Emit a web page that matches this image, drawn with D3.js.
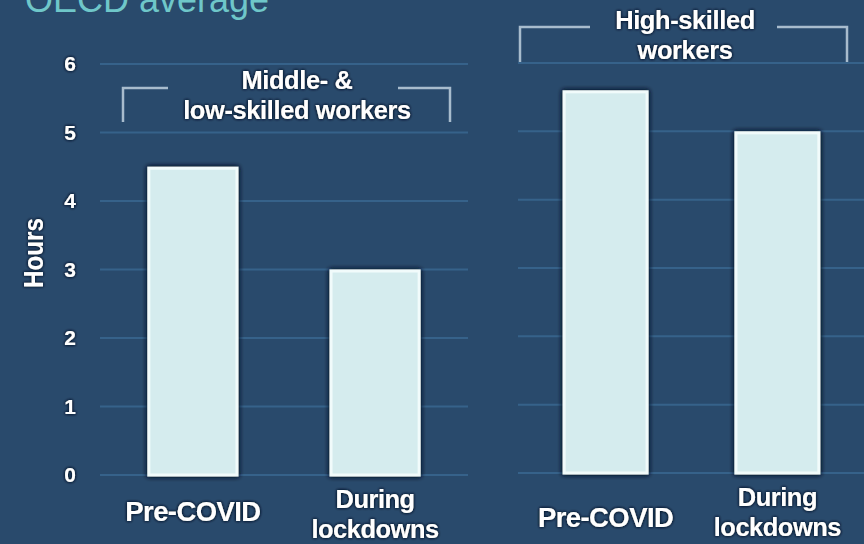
<!DOCTYPE html>
<html><head><meta charset="utf-8">
<script src="https://cdn.jsdelivr.net/npm/d3@7"></script>
<style>
html,body{margin:0;padding:0;background:#294a6c;}
svg{display:block;}
text{font-family:"Liberation Sans",Arial,Helvetica,sans-serif;}
</style></head><body>
<svg id="chart" width="864" height="544"></svg>
<script>
// ---- data ----
const title = "OECD average";
const yAxisLabel = "Hours";
const yTicks = [0, 1, 2, 3, 4, 5, 6];
const categories = ["Pre-COVID", "During lockdowns"];
const categoryLines = [["Pre-COVID"], ["During", "lockdowns"]];
const groupNames = ["Middle- & low-skilled workers", "High-skilled workers"];
const groupLines = [["Middle- &", "low-skilled workers"], ["High-skilled", "workers"]];
const lowMidSkilledHours = [4.5, 3.0];
const highSkilledHours = [5.6, 5.0];

// ---- layout ----
const W = 864, H = 544;
const BG = "#294a6c", GRID = "#3a6892", BAR = "#d5ecee", BAR_EDGE = "#f1fbfb",
      BRACKET = "#a8bccd", TITLE = "#6fc7c9";

const svg = d3.select("#chart").attr("width", W).attr("height", H);
svg.append("rect").attr("width", W).attr("height", H).attr("fill", BG);

const defs = svg.append("defs");
function glow(id, sd, op, n) {
  const f = defs.append("filter").attr("id", id)
    .attr("x", "-30%").attr("y", "-30%").attr("width", "160%").attr("height", "160%");
  f.append("feGaussianBlur").attr("in", "SourceAlpha").attr("stdDeviation", sd).attr("result", "b");
  f.append("feFlood").attr("flood-color", "#081a2e").attr("flood-opacity", op);
  f.append("feComposite").attr("in2", "b").attr("operator", "in").attr("result", "s");
  const m = f.append("feMerge");
  for (let k = 0; k < n; k++) m.append("feMergeNode").attr("in", "s");
  m.append("feMergeNode").attr("in", "SourceGraphic");
}
glow("tglow", 1.8, 1, 2);
glow("bglow", 2.5, 1, 2);

const panels = [
  { values: lowMidSkilledHours, lines: groupLines[0],
    xr: [100, 468], yr: [475, 64], grid: [100, 468], single: 46,
    br: { x0: 123, x1: 450, g0: 168, g1: 398, top: 88, bottom: 122, cx: 297, ty: [80, 110] },
    showAxis: true },
  { values: highSkilledHours, lines: groupLines[1],
    xr: [518, 865], yr: [473, 63], grid: [518, 864], single: 54,
    br: { x0: 520, x1: 847, g0: 590, g1: 777, top: 27, bottom: 62, cx: 685, ty: [20, 50] },
    showAxis: false }
];

panels.forEach(p => {
  const x = d3.scaleBand().domain(categories).range(p.xr).paddingInner(0.5).paddingOuter(0.26);
  const y = d3.scaleLinear().domain([0, 6]).range(p.yr);
  const g = svg.append("g");

  // gridlines
  g.selectAll("line.grid").data(yTicks).join("line")
    .attr("x1", p.grid[0]).attr("x2", p.grid[1])
    .attr("y1", d => y(d)).attr("y2", d => y(d))
    .attr("stroke", GRID).attr("stroke-width", 2).attr("opacity", 0.8);

  // y axis tick labels
  if (p.showAxis) {
    const ax = d3.axisLeft(y).tickValues(yTicks).tickSize(0).tickPadding(0).tickFormat(d3.format("d"));
    const axG = svg.append("g").attr("transform", "translate(77,0)").call(ax);
    axG.select(".domain").remove();
    axG.selectAll("text").attr("fill", "#ffffff").attr("font-size", 21).attr("font-weight", "bold")
      .attr("text-anchor", "middle").attr("x", -7).attr("font-family", "'Liberation Sans',Arial,sans-serif")
      .attr("filter", "url(#tglow)");
  }

  // bars
  g.selectAll("rect.bar").data(p.values).join("rect")
    .attr("x", (d, i) => x(categories[i]) + 1.5)
    .attr("width", x.bandwidth() - 3)
    .attr("y", d => y(d) + 1.5)
    .attr("height", d => y(0) - y(d) - 1.5)
    .attr("fill", BAR).attr("stroke", BAR_EDGE).attr("stroke-width", 3)
    .attr("filter", "url(#bglow)");

  // category labels
  categoryLines.forEach((lines, i) => {
    const cx = x(categories[i]) + x.bandwidth() / 2;
    const t = g.append("text").attr("text-anchor", "middle").attr("fill", "#fff")
      .attr("font-weight", "bold").attr("filter", "url(#tglow)")
      .attr("letter-spacing", lines.length === 1 ? -0.6 : -0.5)
      .attr("font-size", lines.length === 1 ? 27.5 : 25.5);
    lines.forEach((ln, j) => {
      const base = lines.length === 1 ? y(0) + p.single : y(0) + 33 + j * 30;
      t.append("tspan").attr("x", cx).attr("y", base).text(ln);
    });
  });

  // group bracket
  const b = p.br;
  g.append("path")
    .attr("d", `M${b.x0},${b.bottom}V${b.top}H${b.g0}M${b.g1},${b.top}H${b.x1}V${b.bottom}`)
    .attr("fill", "none").attr("stroke", BRACKET).attr("stroke-width", 2.5);
  const gt = g.append("text").attr("text-anchor", "middle").attr("fill", "#fff")
    .attr("font-weight", "bold").attr("font-size", 25.5).attr("letter-spacing", -0.4)
    .attr("filter", "url(#tglow)");
  p.lines.forEach((ln, j) => {
    gt.append("tspan").attr("x", b.cx).attr("y", b.ty[j]).attr("dy", "0.36em").text(ln);
  });
});

// y axis title
svg.append("text")
  .attr("transform", "translate(43,253) rotate(-90)")
  .attr("text-anchor", "middle").attr("fill", "#fff").attr("font-weight", "bold")
  .attr("font-size", 27).attr("textLength", 70).attr("lengthAdjust", "spacingAndGlyphs")
  .attr("filter", "url(#tglow)")
  .text(yAxisLabel);

// chart title (cropped at top, as in the reference)
svg.append("text").attr("x", 25).attr("y", 12).attr("fill", TITLE)
  .attr("font-size", 36).text(title);
</script>
</body></html>
